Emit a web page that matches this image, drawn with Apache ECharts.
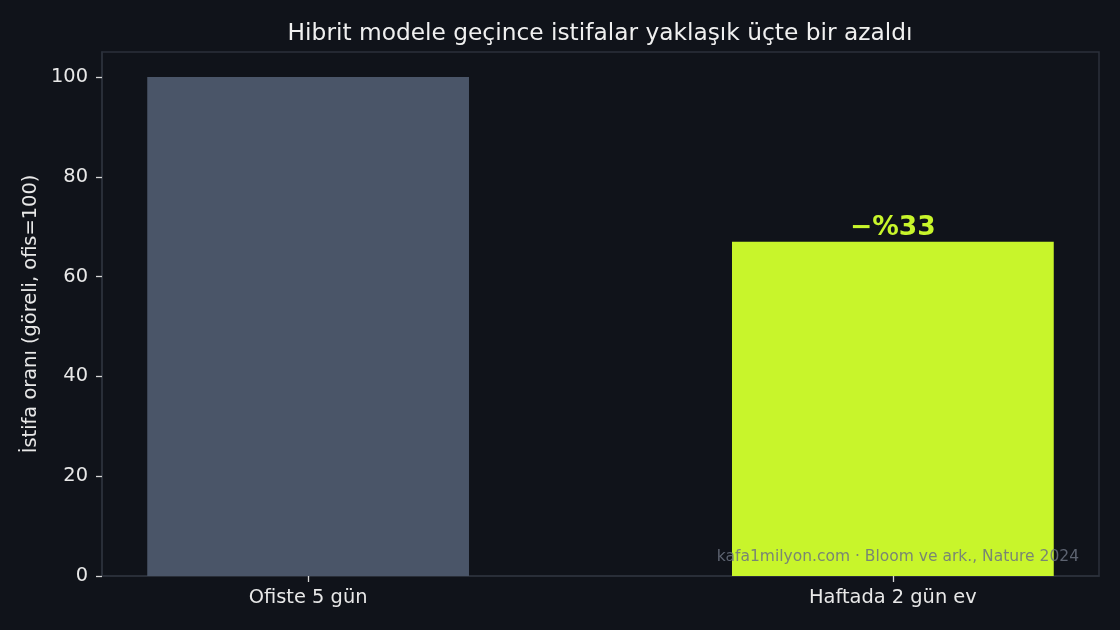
<!DOCTYPE html>
<html>
<head>
<meta charset="utf-8">
<script src="https://cdn.jsdelivr.net/npm/echarts@6/dist/echarts.min.js"></script>
<style>
html,body{margin:0;padding:0;background:#10131a;}
#chart{width:1120px;height:630px;}
</style>
</head>
<body>
<div id="chart"></div>
<script>
const categories = ['Ofiste 5 gün', 'Haftada 2 gün ev'];
const values = [100, 67];
const barColors = ['#4a5568', '#c8f52b'];
const changeLabel = '−%33';
const yTicks = [0, 20, 40, 60, 80, 100];
const titleText = 'Hibrit modele geçince istifalar yaklaşık üçte bir azaldı';
const yName = 'İstifa oranı (göreli, ofis=100)';
const sourceText = 'kafa1milyon.com · Bloom ve ark., Nature 2024';

const FONT = 'DejaVu Sans';
const chart = echarts.init(document.getElementById('chart'), null, {renderer: 'canvas'});

const seriesData = categories.map((c, i) => {
  const d = {
    value: [i, values[i]],
    itemStyle: {color: barColors[i]}
  };
  if (i === 1) {
    d.label = {
      show: true,
      position: 'top',
      distance: 0,
      formatter: changeLabel,
      color: '#c8f52b',
      fontFamily: FONT,
      fontWeight: 'bold',
      fontSize: 26.5
    };
  }
  return d;
});

chart.setOption({
  backgroundColor: '#10131a',
  animation: false,
  title: {
    text: titleText,
    left: 595,
    textAlign: 'center',
    top: 17,
    textStyle: {color: '#f0f0f0', fontFamily: FONT, fontSize: 23.3, fontWeight: 'normal'}
  },
  grid: {
    left: 102, right: 21, top: 52, bottom: 54,
    show: true, borderColor: '#2b303b', borderWidth: 1.5, backgroundColor: 'transparent'
  },
  xAxis: {
    type: 'value',
    min: -0.3525,
    max: 1.3525,
    splitLine: {show: false},
    axisLine: {show: true, onZero: false, lineStyle: {color: '#2b303b', width: 1.5}},
    axisTick: {show: true, customValues: categories.map((c, i) => i), length: 6, lineStyle: {color: '#d8d8d8', width: 1.3}},
    axisLabel: {
      show: true,
      customValues: categories.map((c, i) => i),
      formatter: v => categories[Math.round(v)] || '',
      color: '#e8e8e8', fontFamily: FONT, fontSize: 19.4, margin: 12
    }
  },
  yAxis: {
    type: 'value',
    min: 0,
    max: 105,
    name: yName,
    nameLocation: 'middle',
    nameRotate: 90,
    nameGap: 56,
    nameTextStyle: {color: '#e8e8e8', fontFamily: FONT, fontSize: 19.4},
    splitLine: {show: false},
    axisLine: {show: true, onZero: false, lineStyle: {color: '#2b303b', width: 1.5}},
    axisTick: {show: true, customValues: yTicks, length: 6, lineStyle: {color: '#d8d8d8', width: 1.3}},
    axisLabel: {
      show: true,
      customValues: yTicks,
      padding: [5, 0, 0, 0],
      color: '#e8e8e8', fontFamily: FONT, fontSize: 19.4, margin: 14
    }
  },
  series: [{
    type: 'bar',
    data: seriesData,
    barWidth: 321.75,
    z: 2
  }],
  graphic: [{
    type: 'text',
    right: 41,
    top: 549,
    z: 10,
    style: {
      text: sourceText,
      fill: 'rgba(107,114,128,0.85)',
      font: '15.5px "DejaVu Sans"',
      textAlign: 'right'
    }
  }]
});
</script>
</body>
</html>
